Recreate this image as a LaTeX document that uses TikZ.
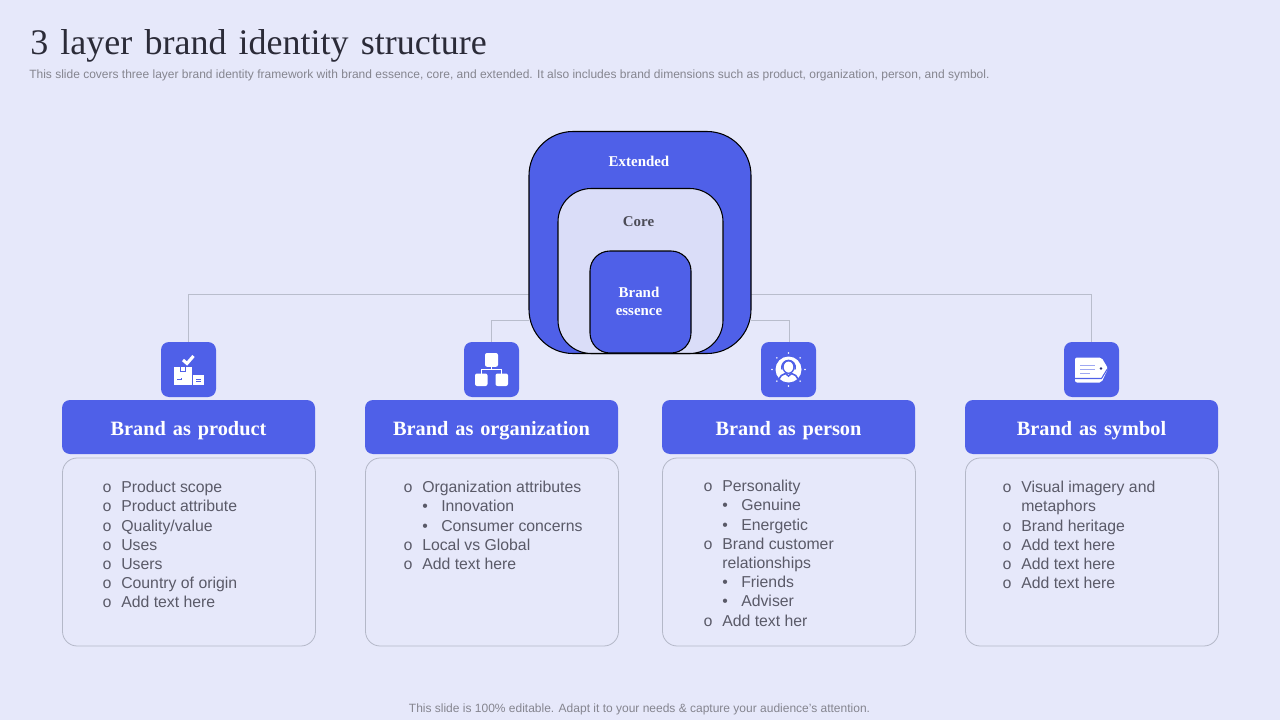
\documentclass[tikz,border=0pt]{standalone}
\usepackage{fontspec}
\setmainfont{Liberation Sans}
\newfontfamily\serifx{Liberation Serif}
\newfontfamily\titlef[WordSpace=1.35]{Liberation Serif}
\newfontfamily\bulletf{Liberation Mono}
\definecolor{bg}{HTML}{E6E8FA}
\definecolor{blu}{HTML}{4F60E8}
\definecolor{corefill}{HTML}{DADDF8}
\definecolor{conn}{HTML}{B9BDCC}
\definecolor{bodyline}{HTML}{B4B8C8}
\definecolor{bodytxt}{HTML}{5A5A68}
\definecolor{subtxt}{HTML}{85858F}
\definecolor{ttl}{HTML}{2B2B38}
\newlength{\pxu}\setlength{\pxu}{0.75pt}
\newcommand{\lo}[1]{\makebox[19\pxu][l]{\bulletf o}#1}
\newcommand{\lb}[1]{\hspace*{19\pxu}\makebox[19\pxu][l]{•}#1}
\newcommand{\lc}[1]{\hspace*{19\pxu}#1}
\newcommand{\hl}[1]{\raisebox{-6pt}[0pt][0pt]{#1}}
\tikzset{
  x=0.75pt,y=-0.75pt,
  conline/.style={draw=conn,line width=0.6pt},
  layerblue/.style={draw=black,line width=0.8pt,fill=blu},
  iconbox/.style={fill=blu,rounded corners=6pt,minimum width=41.25pt,minimum height=41.25pt,inner sep=0pt,draw=none},
  headbox/.style={fill=blu,rounded corners=6pt,minimum width=189.75pt,minimum height=40.5pt,inner sep=0pt,text=white,font=\serifx\bfseries\fontsize{15.25}{18}\selectfont,draw=none},
  bodybox/.style={draw=bodyline,line width=0.6pt,rounded corners=11pt,minimum width=189.75pt,minimum height=141pt,inner sep=0pt},
  listtxt/.style={anchor=north west,inner sep=0pt,align=left,text=bodytxt,font=\fontsize{11.85}{14.4}\selectfont},
  layertxt/.style={font=\serifx\bfseries\fontsize{11.2}{13.5}\selectfont,align=center,inner sep=0pt},
  ico/.style={fill=white,draw=none},
}
\begin{document}
\begin{tikzpicture}
\useasboundingbox (0,0) rectangle (1280,720);
\fill[bg] (0,0) rectangle (1280,720);
\node[anchor=west,inner sep=0pt,text=ttl,font=\titlef\fontsize{27}{30}\selectfont] (title) at (30,46) {3 layer brand identity structure};
\node[anchor=west,inner sep=0pt,text=subtxt,font=\fontsize{9}{11}\selectfont] (sub) at (29,75.5) {This slide covers three layer brand identity framework with brand essence, core, and extended. It also includes brand dimensions such as product, organization, person, and symbol.};
\node[inner sep=0pt,text=subtxt,font=\fontsize{9}{11}\selectfont] (foot) at (639.5,709) {This slide is 100\% editable. Adapt it to your needs \& capture your audience’s attention.};

% icon boxes
\node[iconbox] (i1) at (188.5,369.5) {};
\node[iconbox] (i2) at (491.5,369.5) {};
\node[iconbox] (i3) at (788.5,369.5) {};
\node[iconbox] (i4) at (1091.5,369.5) {};

% connectors
\coordinate (c1) at (529,294.5);
\coordinate (c2) at (529,320.5);
\coordinate (c3) at (751,320.5);
\coordinate (c4) at (751,294.5);
\draw[conline] (c1) -| (i1.north);
\draw[conline] (c2) -| (i2.north);
\draw[conline] (c3) -| ([xshift=0.4pt]i3.north);
\draw[conline] (c4) -| (i4.north);

% layers
\node[layerblue,rounded corners=33pt,minimum width=166.5pt,minimum height=166.5pt,inner sep=0pt] (ext) at (640,242.5) {};
\node[draw=black,line width=0.8pt,fill=corefill,rounded corners=25pt,minimum width=123.75pt,minimum height=123.75pt,inner sep=0pt] (core) at (640.5,271) {};
\node[layerblue,rounded corners=15pt,minimum width=75.75pt,minimum height=76.5pt,inner sep=0pt] (ess) at (640.5,302) {};
\node[layertxt,text=white] (extl) at (639,161) {Extended};
\node[layertxt,text=ttl!85] (corel) at (638.5,221.5) {Core};
\node[layertxt,text=white] (essl) at (639,301) {Brand\\essence};

% headers
\node[headbox] (h1) at (188.5,427) {\hl{Brand as product}};
\node[headbox] (h2) at (491.5,427) {\hl{Brand as organization}};
\node[headbox] (h3) at (788.5,427) {\hl{Brand as person}};
\node[headbox] (h4) at (1091.5,427) {\hl{Brand as symbol}};

% bodies
\node[bodybox] (b1) at (189,552) {};
\node[bodybox] (b2) at (492,552) {};
\node[bodybox] (b3) at (789,552) {};
\node[bodybox] (b4) at (1092,552) {};

\node[listtxt] (l1) at (102,481) {\lo{Product scope}\\\lo{Product attribute}\\\lo{Quality/value}\\\lo{Uses}\\\lo{Users}\\\lo{Country of origin}\\\lo{Add text here}};
\node[listtxt] (l2) at (403,481) {\lo{Organization attributes}\\\lb{Innovation}\\\lb{Consumer concerns}\\\lo{Local vs Global}\\\lo{Add text here}};
\node[listtxt] (l3) at (703,480) {\lo{Personality}\\\lb{Genuine}\\\lb{Energetic}\\\lo{Brand customer}\\\lc{relationships}\\\lb{Friends}\\\lb{Adviser}\\\lo{Add text her}};
\node[listtxt] (l4) at (1002,481) {\lo{Visual imagery and}\\\lc{metaphors}\\\lo{Brand heritage}\\\lo{Add text here}\\\lo{Add text here}\\\lo{Add text here}};

% icon 1: boxes and check
\begin{scope}[shift={(i1.center)}]
\fill[ico] (-14.5,-3) rectangle (3.5,15);
\fill[ico] (4.7,5) rectangle (15,15);
\fill[blu] (-8.5,-3) rectangle (-3,2.5);
\fill[ico] (-7.5,-3) rectangle (-4,1.5);
\fill[blu] (-12,8) rectangle (-6.5,10.5);
\fill[ico] (-11.2,8.7) rectangle (-7.3,9.8);
\fill[blu] (7,9.5) rectangle (12.5,10.2);
\fill[blu] (7,11.5) rectangle (12.5,12.2);
\draw[white,line width=2.3pt] (-5.5,-9.5) -- (-1.5,-6) -- (5,-13.5);
\end{scope}
% icon 2: org chart
\begin{scope}[shift={(i2.center)}]
\fill[ico,rounded corners=1.5pt] (-6.5,-16.5) rectangle (6.5,-2.7);
\fill[ico,rounded corners=1.5pt] (-16.5,4) rectangle (-4,16.5);
\fill[ico,rounded corners=1.5pt] (4,4) rectangle (16.5,16.5);
\draw[white,line width=0.9pt] (0,-2.7) -- (0,0);
\draw[white,line width=0.9pt] (-10,4) -- (-10,0) -- (10,0) -- (10,4);
\end{scope}
% icon 3: person in circle
\begin{scope}[shift={(i3.center)}]
\fill[ico] (0,0) circle (13);
\foreach \a in {0,45,...,315}{\fill[white] (\a:16.5) circle (0.9);}
\draw[blu,line width=1pt] (0,-2.5) ellipse (5.5 and 6.3);
\draw[blu,line width=1.2pt] (-6.7,0) .. controls (-8,-12) and (8,-12) .. (6.7,0);
\draw[blu,line width=1.2pt] (-9.5,9.5) .. controls (-9,6.5) and (-6,5) .. (-3,4) -- (0,6.5) -- (3,4) .. controls (6,5) and (9,6.5) .. (9.5,9.5);
\end{scope}
% icon 4: tag
\begin{scope}[shift={(i4.center)}]
\fill[ico,rounded corners=1.5pt] (-16.5,-12) -- (10,-12) -- (16.5,-1) -- (10,13) -- (-16.5,13) -- cycle;
\draw[blu,line width=0.8pt] (-16.5,9) -- (10,9) -- (15.5,0);
\draw[blu!55!white,line width=0.9pt] (-11.5,-3.7) -- (3,-3.7);
\draw[blu!55!white,line width=0.9pt] (-11.5,0) -- (3,0);
\draw[blu!55!white,line width=0.9pt] (-11.5,3.7) -- (-2,3.7);
\fill[blu!50!black] (9.5,-1) circle (1.4);
\end{scope}
\end{tikzpicture}
\end{document}
